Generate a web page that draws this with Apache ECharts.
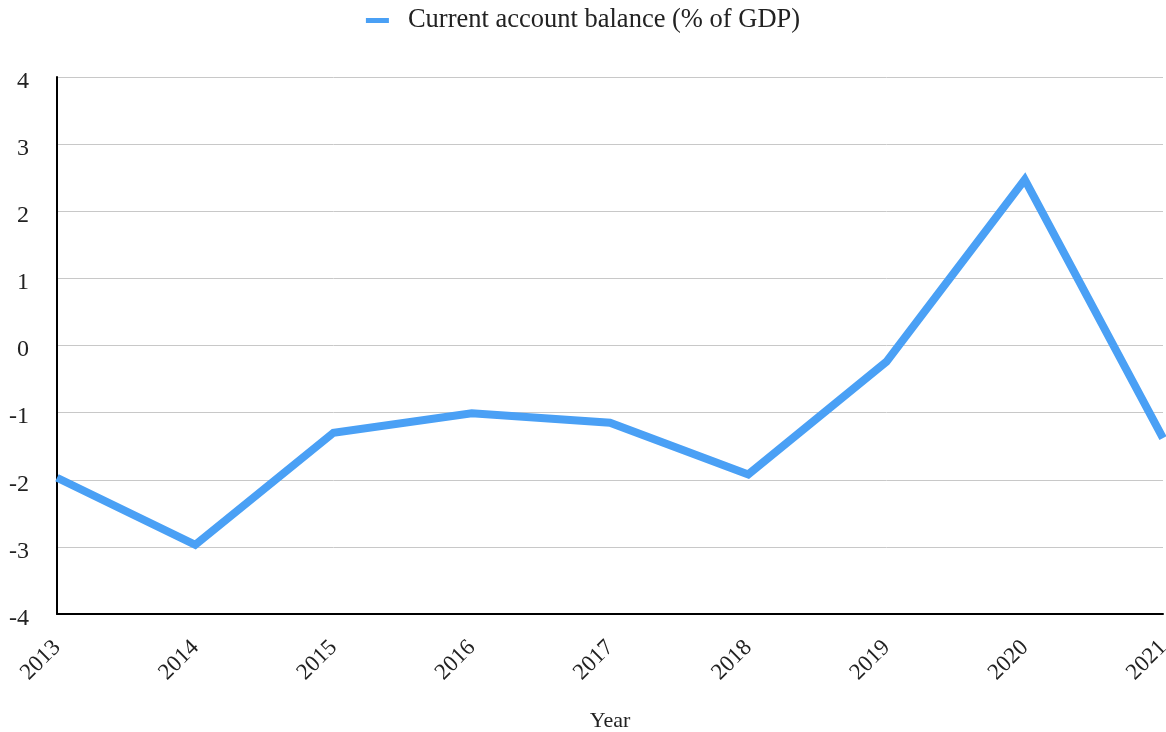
<!DOCTYPE html>
<html>
<head>
<meta charset="utf-8">
<script src="https://cdn.jsdelivr.net/npm/echarts@6/dist/echarts.min.js"></script>
<style>
  html, body { margin: 0; padding: 0; background: #fff; }
  #chart { width: 1166px; height: 732px; }
</style>
</head>
<body>
<div id="chart"></div>
<script>
// Current account balance, % of GDP, by year
const years = ['2013', '2014', '2015', '2016', '2017', '2018', '2019', '2020', '2021'];
const balance = [-1.97, -2.97, -1.30, -1.01, -1.15, -1.92, -0.24, 2.47, -1.38];
const seriesName = 'Current account balance (% of GDP)';
const xAxisTitle = 'Year';

const FONT = '"Liberation Serif", "Times New Roman", serif';
const chart = echarts.init(document.getElementById('chart'));

chart.setOption({
  animation: false,
  textStyle: { fontFamily: FONT },
  legend: {
    top: 2,
    left: 'center',
    icon: 'rect',
    itemWidth: 23,
    itemHeight: 5,
    textStyle: { fontFamily: FONT, fontSize: 26.5, color: '#222', padding: [0, 0, 0, 14] },
    data: [seriesName]
  },
  grid: { left: 57, right: 3, top: 77, bottom: 118, containLabel: false, outerBoundsMode: 'none' },
  xAxis: {
    type: 'category',
    data: years,
    boundaryGap: false,
    name: xAxisTitle,
    nameLocation: 'middle',
    nameGap: 96,
    nameTextStyle: { fontFamily: FONT, fontSize: 22, color: '#222' },
    axisLine: { onZero: false, lineStyle: { color: '#000', width: 2 } },
    axisTick: { show: false },
    axisLabel: { rotate: 45, fontFamily: FONT, fontSize: 23, color: '#222', margin: 30 },
    splitLine: { show: false }
  },
  yAxis: {
    type: 'value',
    min: -4,
    max: 4,
    interval: 1,
    axisLine: { show: true, lineStyle: { color: '#000', width: 2 } },
    axisTick: { show: false },
    axisLabel: {
      margin: 28,
      formatter: '{v|{value}}',
      rich: { v: { fontFamily: FONT, fontSize: 24, color: '#222', padding: [9, 0, 0, 0] } }
    },
    splitLine: { lineStyle: { color: '#c8c8c8', width: 1 } }
  },
  series: [{
    name: seriesName,
    type: 'line',
    data: balance,
    symbol: 'none',
    lineStyle: { color: '#4aa0f5', width: 8, join: 'miter' },
    itemStyle: { color: '#4aa0f5' }
  }]
});
</script>
</body>
</html>
